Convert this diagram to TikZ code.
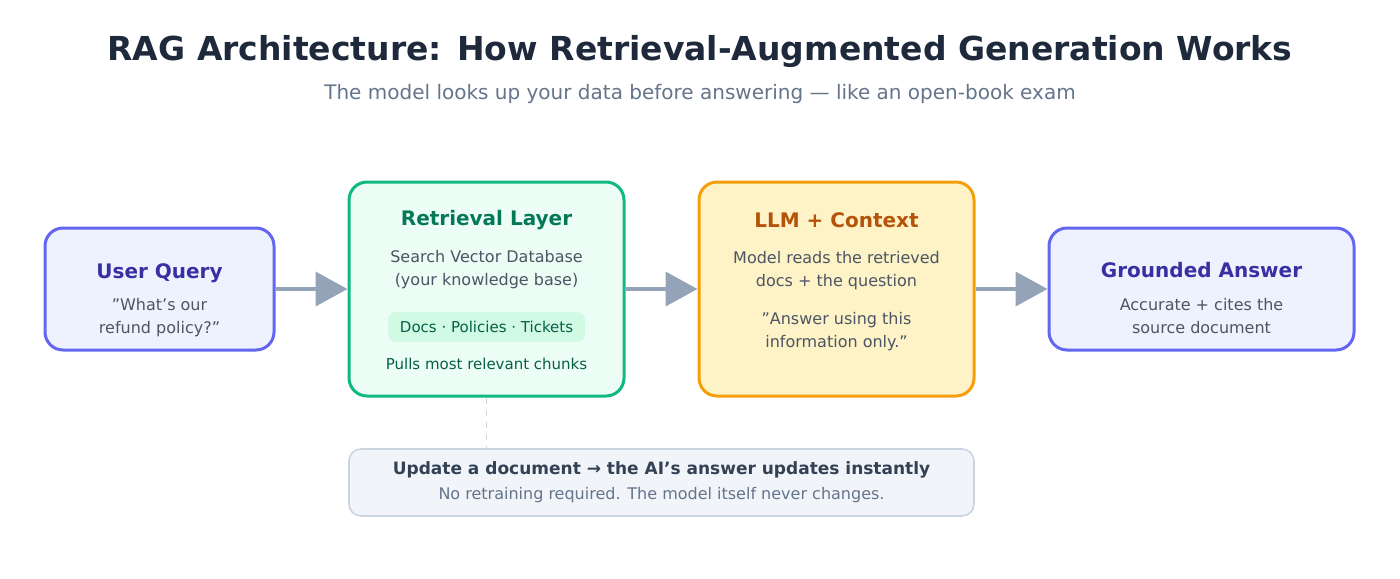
\documentclass[tikz,border=0pt]{standalone}
\usepackage{fontspec}
\setmainfont{DejaVu Sans}
\usetikzlibrary{arrows.meta}
\definecolor{ink}{HTML}{1E293B}
\definecolor{subgray}{HTML}{64748B}
\definecolor{body}{HTML}{4B5563}
\definecolor{indigoline}{HTML}{6366F1}
\definecolor{indigofill}{HTML}{EEF2FF}
\definecolor{indigotext}{HTML}{3730A3}
\definecolor{greenline}{HTML}{10B981}
\definecolor{greenfill}{HTML}{ECFDF5}
\definecolor{greentext}{HTML}{047857}
\definecolor{pillfill}{HTML}{D1FAE5}
\definecolor{pilltext}{HTML}{065F46}
\definecolor{amberline}{HTML}{F59E0B}
\definecolor{amberfill}{HTML}{FEF3C7}
\definecolor{ambertext}{HTML}{B45309}
\definecolor{arrowgray}{HTML}{94A3B8}
\definecolor{notefill}{HTML}{F1F5F9}
\definecolor{noteline}{HTML}{CBD5E1}
\definecolor{notetext}{HTML}{334155}

\begin{document}
\begin{tikzpicture}[x=0.5pt,y=-0.5pt,
  box/.style={draw, line width=1.5pt, rounded corners=9pt, inner sep=0pt},
  boxtitle/.style={font=\fontsize{10}{12}\selectfont\bfseries},
  boxtext/.style={font=\fontsize{8}{11.5}\selectfont, text=body, align=center},
  flow/.style={arrowgray, line width=2pt, -{Triangle[length=16pt,width=17pt]}}]
  \useasboundingbox (0,0) rectangle (1400,578);

  \node[font=\fontsize{16.5}{20}\selectfont\bfseries, text=ink] (title) at (700,52)
    {RAG Architecture: How Retrieval-Augmented Generation Works};
  \node[font=\fontsize{10}{12}\selectfont, text=subgray] (subtitle) at (700,94)
    {The model looks up your data before answering — like an open-book exam};

  % boxes
  \node[box, indigoline, fill=indigofill, minimum width=114.5pt, minimum height=61pt] (query) at (159.5,289) {};
  \node[box, greenline, fill=greenfill, minimum width=137.5pt, minimum height=107pt] (retrieval) at (486.5,289) {};
  \node[box, amberline, fill=amberfill, minimum width=137.5pt, minimum height=107pt] (llm) at (836.5,289) {};
  \node[box, indigoline, fill=indigofill, minimum width=152.5pt, minimum height=61pt] (answer) at (1201.5,289) {};
  \node[draw=noteline, line width=0.8pt, fill=notefill, rounded corners=6pt,
    minimum width=312.5pt, minimum height=33.5pt] (note) at (661.5,482.5) {};

  % texts
  \node[boxtitle, text=indigotext] (querytitle) at (159.5,273) {User Query};
  \node[boxtext] (querytext) at (159.5,318) {"What's our\\refund policy?"};

  \node[boxtitle, text=greentext] (rettitle) at (486.5,220) {Retrieval Layer};
  \node[boxtext] (rettext) at (486.5,269.5) {Search Vector Database\\(your knowledge base)};
  \node[fill=pillfill, text=pilltext, rounded corners=4pt, minimum width=98.5pt, minimum height=15pt,
    inner sep=0pt, font=\fontsize{7.5}{9}\selectfont] (sources) at (486.5,327) {Docs · Policies · Tickets};
  \node[text=pilltext, font=\fontsize{7.5}{9}\selectfont] (chunks) at (486.5,364) {Pulls most relevant chunks};

  \node[boxtitle, text=ambertext] (llmtitle) at (836.5,220) {LLM + Context};
  \node[boxtext] (llmtext) at (836.5,271) {Model reads the retrieved\\docs + the question};
  \node[boxtext] (llmquote) at (836.5,332) {"Answer using this\\information only."};

  \node[boxtitle, text=indigotext] (answertitle) at (1201.5,270) {Grounded Answer};
  \node[boxtext] (answertext) at (1201.5,316.5) {Accurate + cites the\\source document};

  \node[font=\fontsize{8.5}{10}\selectfont\bfseries, text=notetext] (notetitle) at (661.5,470)
    {Update a document → the AI's answer updates instantly};
  \node[font=\fontsize{8}{10}\selectfont, text=subgray] (notetext) at (661.5,495)
    {No retraining required. The model itself never changes.};

  % connectors
  \draw[flow] (query.east) -- (retrieval.west);
  \draw[flow] (retrieval.east) -- (llm.west);
  \draw[flow] (llm.east) -- (answer.west);
  \draw[noteline, line width=0.8pt, dashed] (retrieval.south) -- (note.north -| retrieval.south);
\end{tikzpicture}
\end{document}
